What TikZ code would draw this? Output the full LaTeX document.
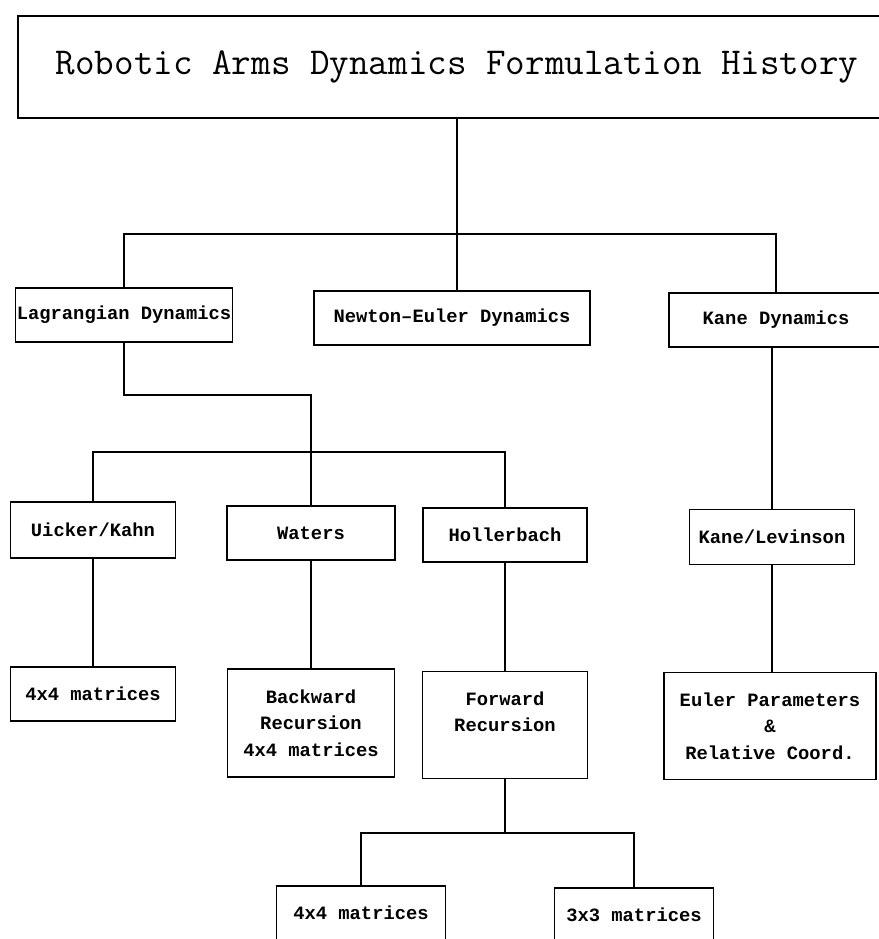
\documentclass[tikz,border=0pt]{standalone}
\usepackage{fontspec}
\newfontfamily\boxfont{Liberation Mono}
\usetikzlibrary{positioning}
\tikzset{
  box/.style     = {draw, line width=0.9pt, inner sep=0pt, align=center,
                    font=\boxfont\bfseries\fontsize{9.4}{13.25}\selectfont},
  boxsize/.style 2 args = {minimum width=#1*0.5pt, minimum height=#2*0.5pt},
  titlebox/.style= {box, font=\ttfamily\fontsize{19}{23}\selectfont},
  link/.style    = {line width=0.9pt}
}

\begin{document}
\begin{tikzpicture}[x=0.5pt, y=-0.5pt]
  \useasboundingbox (0,0) rectangle (879,939);
  % heading
  \node[titlebox, boxsize={878}{102}] (title) at (457,67)
    {Robotic Arms Dynamics Formulation History};
  % first level
  \node[box, boxsize={217}{54}] (lagr)   at (124,315) {Lagrangian Dynamics};
  \node[box, boxsize={276}{54}] (newton) at (452,318) {Newton–Euler Dynamics};
  \node[box, boxsize={214}{54}] (kane)   at (776,320) {Kane Dynamics};
  % second level
  \node[box, boxsize={165}{56}] (uicker)  at (93,530)  {Uicker/Kahn};
  \node[box, boxsize={168}{54}] (waters)  at (311,533) {Waters};
  \node[box, boxsize={164}{54}] (holler)  at (505,535) {Hollerbach};
  \node[box, boxsize={165}{55}] (kanelev) at (772,537) {Kane/Levinson};
  % third level
  \node[box, boxsize={165}{54}]  (mat1)  at (93,694)  {4x4 matrices};
  \node[box, boxsize={167}{108}] (backw) at (311,723) {Backward\\Recursion\\4x4 matrices};
  \node[box, boxsize={165}{107}] (forw)  at (505,725) {Forward\\Recursion\\\mbox{}};
  \node[box, boxsize={212}{107}] (euler) at (770,726) {Euler Parameters\\\&\\Relative Coord.};
  % fourth level
  \node[box, boxsize={169}{54}] (mat2) at (361,913) {4x4 matrices};
  \node[box, boxsize={159}{54}] (mat3) at (634,915) {3x3 matrices};

  \coordinate (top)   at (457,234);
  \coordinate (elbow) at (311,395);
  \coordinate (mid)   at (311,452);
  \coordinate (low)   at (505,833);

  \draw[link] (title.south) -- (title.south |- newton.north);
  \draw[link] (lagr.north) |- (top) -| (kane.north);
  \draw[link] (lagr.south) |- (elbow) -- (mid);
  \draw[link] (uicker.north) |- (mid) -| (holler.north);
  \draw[link] (mid) -- (waters.north);
  \draw[link] (kanelev.north) -- (kanelev.north |- kane.south);
  \draw[link] (uicker) -- (mat1);
  \draw[link] (waters) -- (backw);
  \draw[link] (holler) -- (forw);
  \draw[link] (kanelev.south) -- (kanelev.south |- euler.north);
  \draw[link] (forw.south) -- (low);
  \draw[link] (mat2.north) |- (low) -| (mat3.north);
\end{tikzpicture}
\end{document}
